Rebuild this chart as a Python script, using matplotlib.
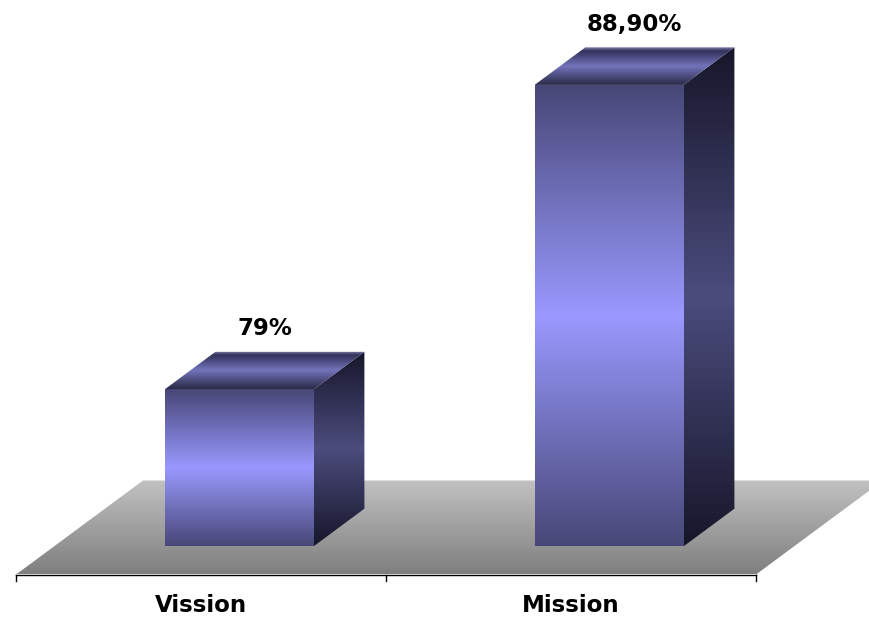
import numpy as np
import matplotlib.pyplot as plt
from matplotlib.patches import Polygon
from matplotlib.colors import LinearSegmentedColormap

categories = ['Vission', 'Mission']
values = [79.0, 88.9]
value_labels = ['79%', '88,90%']

# layout (pixels of the 869x618 canvas)
y_min = 73.9
px_per_unit = 30.76
floor_px = 574.5
cat_px = 370
cat0_px = 201

fig = plt.figure(figsize=(8.69, 6.18), dpi=100)
ax = fig.add_axes([0, 0, 1, 1])
ax.set_xlim(-cat0_px / cat_px, (869 - cat0_px) / cat_px)
ax.set_ylim(y_min - (618 - floor_px) / px_per_unit, y_min + floor_px / px_per_unit)
ax.axis('off')

# oblique depth vector of the whole floor, in data units
DX = 127 / cat_px
DY = 94 / px_per_unit
d0, bd = 0.3, 0.4      # bar starts at 30% depth, is 40% deep
bar_w = 149 / cat_px


def grad_poly(pts, stops, z):
    pts = np.array(pts)
    poly = Polygon(pts, closed=True, facecolor='none', edgecolor='none', zorder=z)
    ax.add_patch(poly)
    cmap = LinearSegmentedColormap.from_list('g', stops)
    grad = np.linspace(0, 1, 256).reshape(-1, 1)
    im = ax.imshow(grad, cmap=cmap, origin='lower', aspect='auto',
                   interpolation='bilinear', zorder=z,
                   extent=[pts[:, 0].min(), pts[:, 0].max(),
                           pts[:, 1].min(), pts[:, 1].max()])
    im.set_clip_path(poly)


# floor
floor = [(-0.5, y_min), (1.5, y_min), (1.5 + DX, y_min + DY), (-0.5 + DX, y_min + DY)]
grad_poly(floor, ['#7f7f7f', '#c2c2c2'], 1)

# axis line and ticks
tick_len = 7 / px_per_unit
ax.plot([-0.5, 1.5], [y_min, y_min], color='black', lw=1, zorder=2)
for t in [-0.5, 0.5, 1.5]:
    ax.plot([t, t], [y_min, y_min - tick_len], color='black', lw=1, zorder=2)

front_stops = [(0, '#474777'), (0.5, '#9999ff'), (1, '#474777')]
side_stops = [(0, '#16162a'), (0.5, '#4c4c7e'), (1, '#16162a')]
top_stops = [(0, '#2a2a46'), (0.5, '#7373bb'), (0.9, '#32325a'), (1, '#8080b0')]

for i, (cat, v, lab) in enumerate(zip(categories, values, value_labels)):
    xc = i + d0 * DX
    xl, xr = xc - bar_w / 2, xc + bar_w / 2
    yb = y_min + d0 * DY
    yt = v + d0 * DY
    ddx, ddy = bd * DX, bd * DY

    grad_poly([(xl, yb), (xr, yb), (xr, yt), (xl, yt)], front_stops, 3)
    grad_poly([(xr, yb), (xr + ddx, yb + ddy), (xr + ddx, yt + ddy), (xr, yt)], side_stops, 3)
    grad_poly([(xl, yt), (xr, yt), (xr + ddx, yt + ddy), (xl + ddx, yt + ddy)], top_stops, 3)

    ax.annotate(lab, (xc + ddx / 2, yt + ddy), xytext=(0, 12), textcoords='offset points',
                ha='center', va='baseline', fontsize=16.5, fontweight='bold', zorder=4)
    ax.text(i, y_min - (612 - floor_px) / px_per_unit, cat, ha='center', va='baseline',
            fontsize=16.5, fontweight='bold')

fig.savefig('out.png', dpi=100)
